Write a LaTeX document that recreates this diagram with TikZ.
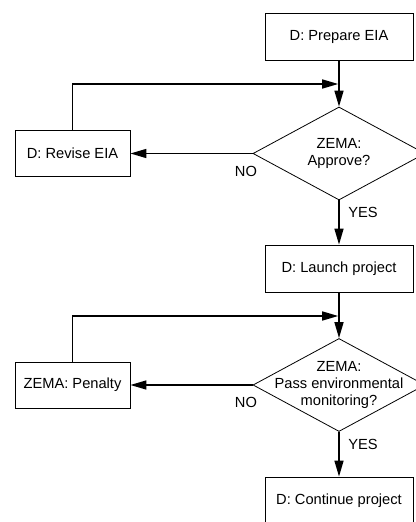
\documentclass[tikz,border=0pt]{standalone}
\usepackage{fontspec}
\setmainfont{Liberation Sans}
\usetikzlibrary{positioning}
\usetikzlibrary{shapes.geometric}
\usetikzlibrary{arrows.meta}
\usetikzlibrary{math}

\begin{document}
\begin{tikzpicture}[x=0.75pt,y=0.75pt,
  font=\fontsize{11}{13}\selectfont,
  proc/.style={draw, line width=0.6pt, minimum width=111pt, minimum height=35.25pt, inner sep=0pt},
  side/.style={proc, minimum width=86.25pt, minimum height=34.5pt},
  decision/.style={draw, diamond, line width=0.6pt, minimum width=129pt, minimum height=69.75pt, inner sep=0pt},
  flow/.style={line width=1.2pt, -{Triangle[length=12pt,width=6.75pt]}},
  lbl/.style={inner sep=0pt}]

  \tikzmath{
    \mainx = 339;   % x of the main column
    \sidex = 72.5;  % x of the side boxes
    \topjoin = 438; % where the first loop comes back
    \lowjoin = 206; % where the second loop comes back
  }

  \useasboundingbox (0,0) rectangle (415,522);

  % main column
  \node[proc] (prepare) at (\mainx, 485) {D: Prepare EIA};
  \node[decision] (approve) at (\mainx, 368.5) {};
  \node[align=center] (approvetxt) at (approve) {ZEMA:\\Approve?};
  \node[proc] (launch) at (\mainx, 253.5) {D: Launch project};
  \node[decision] (monitor) at (\mainx, 137) {};
  \node[align=center] (monitortxt) at (monitor) {ZEMA:\\Pass environmental\\monitoring?};
  \node[proc] (continue) at (\mainx, 21.5) {D: Continue project};

  % side boxes
  \node[side] (revise) at (\sidex, 368.5) {D: Revise EIA};
  \node[side] (penalty) at (\sidex, 137) {ZEMA: Penalty};

  % points where the loops join the main column
  \coordinate (join1) at (\mainx, \topjoin);
  \coordinate (join2) at (\mainx, \lowjoin);

  % main flow
  \draw[flow] (prepare) -- (approve);
  \draw[flow] (approve) -- (launch);
  \draw[flow] (launch) -- (monitor);
  \draw[flow] (monitor) -- (continue);

  % NO branches
  \draw[flow] (approve.west) -- (revise);
  \draw[flow] (monitor.west) -- (penalty);

  % loops back
  \draw[flow, shorten >=0.6pt] (revise.north) |- (join1);
  \draw[flow, shorten >=0.6pt] (penalty.north) |- (join2);

  % answers
  \node[lbl, below=9pt of approve.west, xshift=-5pt] (no1) {NO};
  \node[lbl, below right=5.25pt and 6.75pt of approve.south] (yes1) {YES};
  \node[lbl, below=9pt of monitor.west, xshift=-5pt] (no2) {NO};
  \node[lbl, below right=5.25pt and 6.75pt of monitor.south] (yes2) {YES};

\end{tikzpicture}
\end{document}
